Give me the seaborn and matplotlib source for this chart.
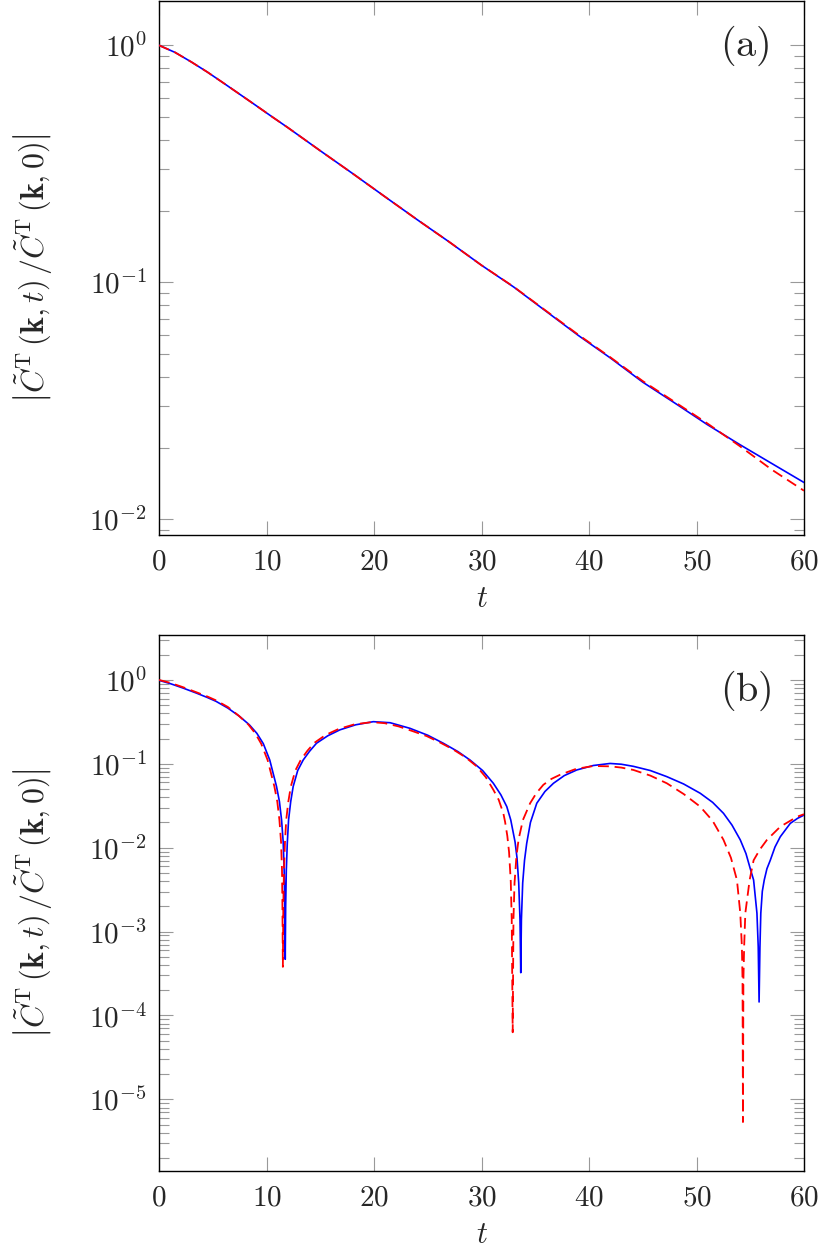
import numpy as np
import pandas as pd
import matplotlib
matplotlib.use("Agg")
import matplotlib.pyplot as plt
import seaborn as sns
from matplotlib.ticker import LogLocator, FuncFormatter, FixedLocator, NullLocator

# ---------------- data ----------------
# panel (a)
ta_blue = [0, 1.5, 3, 4.5, 6, 7.5, 9, 10.5, 12, 15, 18, 21, 24, 27, 30, 33, 36, 39,
           42, 45, 48, 51, 54, 57, 60]
va_blue = [1.0, 0.933, 0.851, 0.771, 0.693, 0.622, 0.558, 0.500, 0.449, 0.359, 0.288,
           0.230, 0.184, 0.148, 0.118, 0.0955, 0.0755, 0.0597, 0.0479, 0.0379, 0.0309,
           0.0251, 0.0207, 0.0172, 0.0143]
ta_red = [0, 1.5, 3, 4.5, 6, 7.5, 9, 10.5, 12, 15, 18, 21, 24, 27, 30, 33, 36, 39,
          42, 45, 48, 51, 54, 57, 60]
va_red = [1.0, 0.933, 0.851, 0.771, 0.693, 0.622, 0.558, 0.500, 0.449, 0.359, 0.288,
          0.230, 0.184, 0.148, 0.118, 0.0957, 0.0758, 0.0601, 0.0482, 0.0383, 0.0312,
          0.0254, 0.0204, 0.0162, 0.0132]

# panel (b)
tb_blue = [0, 1, 2.2, 3.5, 4.5, 5.3, 6.4, 7.5, 8.4, 9.1, 9.7, 10.3, 10.93, 11.2, 11.4,
           11.55, 11.64, 11.70, 11.74, 11.78, 11.84, 11.93, 12.05, 12.25, 12.48, 12.9,
           13.41, 14.0, 14.65, 15.7, 16.82, 18.3, 19.93, 21.5, 23.34, 25.0, 26.44, 27.8,
           28.93, 30.1, 31.1, 31.8, 32.35, 32.72, 33.12, 33.3, 33.46, 33.58, 33.65, 33.71,
           33.83, 34.0, 34.2, 34.55, 35.14, 35.9, 36.69, 37.7, 38.86, 40.4, 41.96, 43.0,
           44.13, 45.7, 47.24, 48.8, 50.34, 51.5, 52.51, 53.3, 54.07, 54.6, 55.0, 55.31,
           55.62, 55.74, 55.82, 55.90, 55.98, 56.12, 56.3, 56.55, 56.86, 57.3, 57.79,
           58.72, 59.4, 60.0]
vb_blue = [0.989, 0.908, 0.803, 0.695, 0.617, 0.556, 0.462, 0.367, 0.292, 0.231, 0.174,
           0.111, 0.0537, 0.0355, 0.0214, 0.0117, 0.00537, 0.0020, 0.000468, 0.0020,
           0.00537, 0.0112, 0.0214, 0.0355, 0.0537, 0.0832, 0.111, 0.141, 0.176, 0.216,
           0.254, 0.292, 0.318, 0.309, 0.265, 0.219, 0.176, 0.140, 0.111, 0.0832, 0.0586,
           0.0427, 0.0309, 0.0214, 0.0117, 0.00759, 0.00380, 0.00138, 0.000324, 0.00138,
           0.00380, 0.00708, 0.0112, 0.0200, 0.0339, 0.0468, 0.0586, 0.0724, 0.0845,
           0.0955, 0.101, 0.0989, 0.0933, 0.0832, 0.0703, 0.0575, 0.0446, 0.0347, 0.0257,
           0.0186, 0.0124, 0.00851, 0.00562, 0.00412, 0.00166, 0.000661, 0.000145,
           0.000661, 0.00166, 0.00302, 0.00412, 0.00562, 0.00708, 0.0102, 0.0135, 0.0195,
           0.0224, 0.0245]
tb_red = [0, 1, 2.2, 3.5, 4.5, 5.3, 6.4, 7.4, 8.3, 8.95, 9.5, 10.1, 10.73, 11.0, 11.2,
          11.35, 11.44, 11.48, 11.52, 11.56, 11.62, 11.71, 11.83, 12.03, 12.26, 12.68,
          13.18, 13.8, 14.45, 15.5, 16.7, 18.2, 19.8, 21.0, 22.3, 23.6, 24.9, 26.2, 27.37,
          28.5, 29.55, 30.4, 31.1, 31.6, 32.03, 32.19, 32.4, 32.56, 32.72, 32.81, 32.90,
          32.97, 33.07, 33.25, 33.45, 33.85, 34.52, 35.1, 35.75, 36.5, 37.31, 38.8, 40.41,
          41.96, 43.0, 44.13, 45.7, 47.24, 48.8, 50.34, 51.5, 52.51, 53.2, 53.76, 54.07,
          54.22, 54.28, 54.32, 54.36, 54.43, 54.54, 54.94, 55.31, 55.9, 56.55, 57.79,
          59.35, 60.0]
vb_red = [1.0, 0.927, 0.822, 0.711, 0.634, 0.571, 0.476, 0.376, 0.295, 0.231, 0.174,
          0.111, 0.0537, 0.0355, 0.0214, 0.0117, 0.00537, 0.0020, 0.00038, 0.0020,
          0.00537, 0.0112, 0.0214, 0.0355, 0.0537, 0.0832, 0.111, 0.143, 0.178, 0.221,
          0.260, 0.296, 0.314, 0.305, 0.279, 0.245, 0.214, 0.178, 0.148, 0.120, 0.0933,
          0.0692, 0.0490, 0.0372, 0.0257, 0.0204, 0.0138, 0.00891, 0.00398, 0.00138,
          0.0000631, 0.00138, 0.00380, 0.00794, 0.0126, 0.0214, 0.0339, 0.0447, 0.0562,
          0.0661, 0.0741, 0.0871, 0.0942, 0.0933, 0.0902, 0.0845, 0.0724, 0.0586, 0.0437,
          0.0309, 0.0209, 0.0124, 0.00759, 0.00412, 0.00166, 0.000661, 0.000263,
          0.00000537, 0.000263, 0.000661, 0.00166, 0.00412, 0.00708, 0.00955, 0.0124,
          0.0178, 0.0234, 0.0251]

x_ticks = [0, 10, 20, 30, 40, 50, 60]
ya_ticks = [1e-2, 1e-1, 1e0]
yb_ticks = [1e-5, 1e-4, 1e-3, 1e-2, 1e-1, 1e0]
panel_labels = ["(a)", "(b)"]
ylabel = (r"$\left|\tilde{C}^{\mathrm{T}}\,\left(\mathbf{k},t\right)\,/\tilde{C}^{\mathrm{T}}"
          r"\,\left(\mathbf{k},0\right)\right|$")

# ---------------- style ----------------
sns.set_style("ticks")
plt.rcParams["mathtext.fontset"] = "cm"
plt.rcParams["font.family"] = ["DejaVu Serif"]

fig = plt.figure(figsize=(8.3, 12.51), dpi=100)
axA = fig.add_axes([0.1916, 0.5721, 0.7771, 0.4271])
axB = fig.add_axes([0.1916, 0.0642, 0.7771, 0.4285])

panels = [
    (axA, ta_blue, va_blue, ta_red, va_red, ya_ticks, (10 ** -2.0675, 10 ** 0.187), (0.908, 0.916)),
    (axB, tb_blue, vb_blue, tb_red, vb_red, yb_ticks, (10 ** -5.85, 10 ** 0.54), (0.91, 0.895)),
]

for i, (ax, tbl, vbl, trd, vrd, yt, ylim, lpos) in enumerate(panels):
    dfb = pd.DataFrame({"t": tbl, "v": vbl})
    dfr = pd.DataFrame({"t": trd, "v": vrd})
    ax.set_yscale("log")
    sns.lineplot(data=dfb, x="t", y="v", ax=ax, color="#0000ff", lw=1.2, zorder=3)
    sns.lineplot(data=dfr, x="t", y="v", ax=ax, color="#ff0000", lw=1.3,
                 linestyle=(0, (6, 3.2)), zorder=4)
    ax.set_xlim(0, 60)
    ax.set_ylim(*ylim)
    ax.xaxis.set_major_locator(FixedLocator(x_ticks))
    ax.xaxis.set_major_formatter(FuncFormatter(lambda v, p: r"$%d$" % round(v)))
    ax.xaxis.set_minor_locator(NullLocator())
    ax.yaxis.set_major_locator(FixedLocator(yt))
    ax.yaxis.set_minor_locator(LogLocator(base=10, subs=np.arange(2, 10), numticks=100))
    ax.yaxis.set_major_formatter(FuncFormatter(lambda v, p: r"$10^{%d}$" % round(np.log10(v))))
    ax.tick_params(which="both", direction="in", top=True, right=True,
                   color="0.6", labelsize=21)
    ax.tick_params(which="major", length=10, width=0.8)
    ax.tick_params(which="minor", length=7, width=0.8)
    ax.tick_params(axis="x", pad=9)
    ax.tick_params(axis="y", pad=9)
    for s in ax.spines.values():
        s.set_linewidth(1.0)
        s.set_color("black")
    ax.set_xlabel(r"$t$", fontsize=22)
    ax.set_ylabel(ylabel, fontsize=23)
    ax.xaxis.set_label_coords(0.5, -0.09)
    ax.yaxis.set_label_coords(-0.163, 0.5)
    ax.text(lpos[0], lpos[1], r"$\mathrm{%s}$" % panel_labels[i], transform=ax.transAxes,
            ha="center", va="center", fontsize=29)

fig.savefig("out.png", dpi=100)
